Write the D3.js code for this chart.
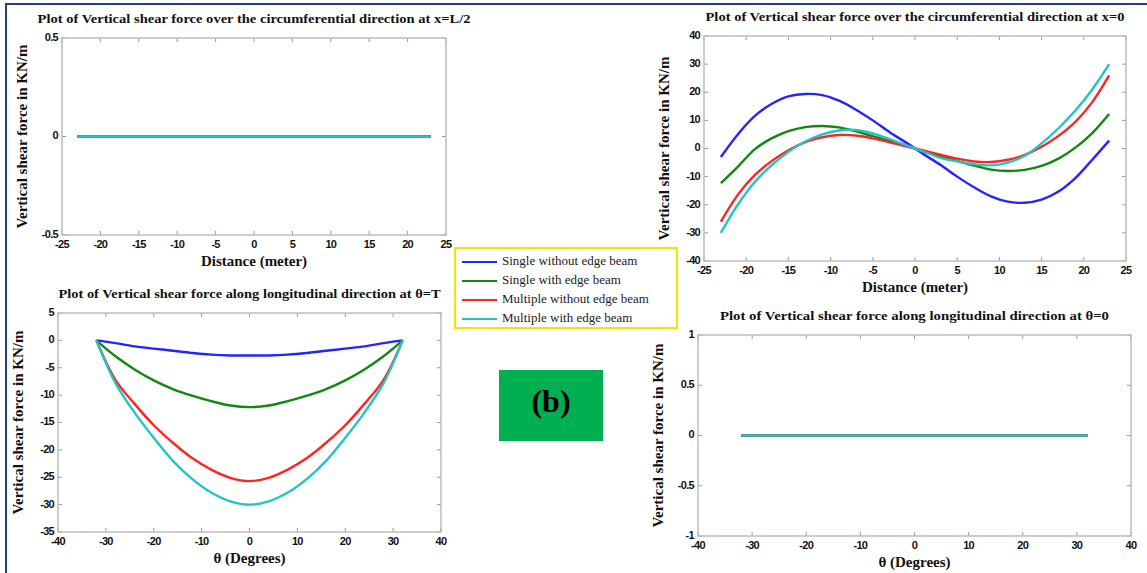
<!DOCTYPE html>
<html>
<head>
<meta charset="utf-8">
<title>Vertical shear force plots</title>
<script src="https://d3js.org/d3.v7.min.js"></script>
<style>
    body { margin: 0; background: #fff; }
    svg { display: block; }
    .tick-label { font-family: "Liberation Sans", Arial, sans-serif; font-weight: bold; font-size: 11px; letter-spacing: -0.7px; fill: #111; }
    .title { font-family: "Liberation Serif", "Times New Roman", serif; font-weight: bold; font-size: 13px; fill: #111; }
    .axis-label { font-family: "Liberation Serif", "Times New Roman", serif; font-weight: bold; font-size: 15px; fill: #111; }
    .legend-text { font-family: "Liberation Serif", "Times New Roman", serif; font-size: 13px; fill: #222; }
</style>
</head>
<body>
<div id="chart"></div>
<script>
// series names + colours (shared by all four plots)
var seriesNames = ["Single without edge beam", "Single with edge beam", "Multiple without edge beam", "Multiple with edge beam"];
var seriesColors = ["#2424ff", "#128812", "#ff2424", "#22c4c4"];

// circumferential direction (distance in meter)
var circX = [-23, -21, -19, -17, -15, -13, -11, -9, -7, -5, -3, -1, 1, 3, 5, 7, 9, 11, 13, 15, 17, 19, 21, 23];
// x = L/2 : all curves sit on zero
var midBlue  = [0, 0, 0, 0, 0, 0, 0, 0, 0, 0, 0, 0, 0, 0, 0, 0, 0, 0, 0, 0, 0, 0, 0, 0];
var midGreen = [0, 0, 0, 0, 0, 0, 0, 0, 0, 0, 0, 0, 0, 0, 0, 0, 0, 0, 0, 0, 0, 0, 0, 0];
var midRed   = [0, 0, 0, 0, 0, 0, 0, 0, 0, 0, 0, 0, 0, 0, 0, 0, 0, 0, 0, 0, 0, 0, 0, 0];
var midCyan  = [0, 0, 0, 0, 0, 0, 0, 0, 0, 0, 0, 0, 0, 0, 0, 0, 0, 0, 0, 0, 0, 0, 0, 0];
// x = 0
var endBlue  = [-3, 5, 11.5, 15.8, 18.5, 19.4, 19, 17, 13.8, 10, 5.8, 2, -2, -5.8, -10, -13.8, -17, -18.9, -19.3, -18.2, -15.3, -10.5, -4, 2.8];
var endGreen = [-12.3, -6.5, -0.3, 3.6, 6.2, 7.6, 8, 7.5, 6.1, 4.4, 2.7, 0.9, -0.9, -2.7, -4.4, -6.1, -7.5, -8, -7.6, -6.2, -3.6, 0.3, 5.5, 12.3];
var endRed   = [-26, -16.5, -9.5, -4.5, -0.6, 2.3, 4, 4.8, 4.6, 3.6, 2.2, 0.7, -0.7, -2.2, -3.6, -4.6, -4.8, -4, -2.3, 0.6, 4.5, 9.5, 16.5, 26];
var endCyan  = [-30, -20, -12, -6, -1.2, 2.5, 5, 6.4, 6.6, 5.4, 3.3, 1.1, -1.1, -3.3, -4.6, -5.6, -6, -5, -2.6, 1.8, 7.2, 13.5, 21, 30];

// longitudinal direction (theta in degrees)
var thetaX = [-32, -28, -24, -20, -16, -12, -8, -4, 0, 4, 8, 12, 16, 20, 24, 28, 32];
// theta = T
var longBlue  = [0, -0.5, -1.1, -1.5, -1.9, -2.3, -2.6, -2.75, -2.75, -2.75, -2.6, -2.3, -1.9, -1.5, -1.1, -0.5, 0];
var longGreen = [0, -2.9, -5.3, -7.3, -8.9, -10.1, -11.1, -11.9, -12.2, -11.9, -11.1, -10.1, -8.9, -7.3, -5.3, -2.9, 0];
var longRed   = [0, -7.2, -11.6, -15.5, -18.7, -21.5, -23.6, -25.1, -25.7, -25.1, -23.6, -21.5, -18.7, -15.5, -11.6, -7.2, 0];
var longCyan  = [0, -7.8, -13.2, -17.8, -22, -25.3, -27.8, -29.4, -30, -29.4, -27.8, -25.3, -22, -17.8, -13.2, -7.8, 0];
// theta = 0 : all zero
var zeroBlue  = [0, 0, 0, 0, 0, 0, 0, 0, 0, 0, 0, 0, 0, 0, 0, 0, 0];
var zeroGreen = [0, 0, 0, 0, 0, 0, 0, 0, 0, 0, 0, 0, 0, 0, 0, 0, 0];
var zeroRed   = [0, 0, 0, 0, 0, 0, 0, 0, 0, 0, 0, 0, 0, 0, 0, 0, 0];
var zeroCyan  = [0, 0, 0, 0, 0, 0, 0, 0, 0, 0, 0, 0, 0, 0, 0, 0, 0];

// tick labels
var distTicks = [-25, -20, -15, -10, -5, 0, 5, 10, 15, 20, 25];
var thetaTicks = [-40, -30, -20, -10, 0, 10, 20, 30, 40];
var midYTicks = [-0.5, 0, 0.5];
var endYTicks = [-40, -30, -20, -10, 0, 10, 20, 30, 40];
var longYTicks = [-35, -30, -25, -20, -15, -10, -5, 0, 5];
var zeroYTicks = [-1, -0.5, 0, 0.5, 1];

var W = 1147, H = 573;
var svg = d3.select("#chart").append("svg")
    .attr("width", W)
    .attr("height", H);

// dark frame round the figure
svg.append("path")
    .attr("d", "M6,573 V4 H1147")
    .attr("fill", "none")
    .attr("stroke", "#23407a")
    .attr("stroke-width", 2);

function drawPanel(p) {
    var x = d3.scaleLinear().domain(p.xDomain).range([p.left, p.right]);
    var y = d3.scaleLinear().domain(p.yDomain).range([p.bottom, p.top]);
    var g = svg.append("g");

    // ticks on all four sides, pointing in
    p.xTicks.forEach(function(t) {
        g.append("line").attr("x1", x(t)).attr("x2", x(t)).attr("y1", p.bottom).attr("y2", p.bottom - 4).attr("stroke", "#999");
        g.append("line").attr("x1", x(t)).attr("x2", x(t)).attr("y1", p.top).attr("y2", p.top + 4).attr("stroke", "#999");
        g.append("text").attr("class", "tick-label")
            .attr("x", x(t)).attr("y", p.bottom + 10)
            .attr("text-anchor", "middle").attr("dominant-baseline", "middle")
            .text(t);
    });
    p.yTicks.forEach(function(t) {
        g.append("line").attr("x1", p.left).attr("x2", p.left + 4).attr("y1", y(t)).attr("y2", y(t)).attr("stroke", "#999");
        g.append("line").attr("x1", p.right).attr("x2", p.right - 4).attr("y1", y(t)).attr("y2", y(t)).attr("stroke", "#999");
        g.append("text").attr("class", "tick-label")
            .attr("x", p.left - 4).attr("y", y(t))
            .attr("text-anchor", "end").attr("dominant-baseline", "middle")
            .text(t);
    });

    g.append("rect")
        .attr("x", p.left).attr("y", p.top)
        .attr("width", p.right - p.left).attr("height", p.bottom - p.top)
        .attr("fill", "none").attr("stroke", "#bdbdbd").attr("stroke-width", 1.5);

    var line = d3.line()
        .x(function(d) { return x(d[0]); })
        .y(function(d) { return y(d[1]); })
        .curve(d3.curveCatmullRom);

    p.series.forEach(function(vals, i) {
        g.append("path")
            .datum(p.xs.map(function(v, j) { return [v, vals[j]]; }))
            .attr("d", line)
            .attr("fill", "none")
            .attr("stroke", seriesColors[i])
            .attr("stroke-width", 2.4);
    });

    var cx = (p.left + p.right) / 2;
    g.append("text").attr("class", "title")
        .attr("x", cx).attr("y", p.top - 18)
        .attr("text-anchor", "middle").attr("dominant-baseline", "middle")
        .attr("textLength", p.titleWidth).attr("lengthAdjust", "spacingAndGlyphs")
        .text(p.title);
    g.append("text").attr("class", "axis-label")
        .attr("x", cx).attr("y", p.bottom + 28)
        .attr("text-anchor", "middle").attr("dominant-baseline", "middle")
        .text(p.xLabel);
    g.append("text").attr("class", "axis-label")
        .attr("transform", "translate(" + (p.left - 38) + "," + ((p.top + p.bottom) / 2) + ") rotate(-90)")
        .attr("text-anchor", "middle").attr("dominant-baseline", "middle")
        .text("Vertical shear force in KN/m");
}

drawPanel({
    left: 62, right: 446, top: 38, bottom: 235,
    xDomain: [-25, 25], yDomain: [-0.5, 0.5],
    xTicks: distTicks, yTicks: midYTicks,
    xs: circX, series: [midBlue, midGreen, midRed, midCyan],
    title: "Plot of Vertical shear force over the circumferential direction at x=L/2", titleWidth: 433,
    xLabel: "Distance (meter)"
});

drawPanel({
    left: 704, right: 1126, top: 36, bottom: 261,
    xDomain: [-25, 25], yDomain: [-40, 40],
    xTicks: distTicks, yTicks: endYTicks,
    xs: circX, series: [endBlue, endGreen, endRed, endCyan],
    title: "Plot of Vertical shear force over the circumferential direction at x=0", titleWidth: 419,
    xLabel: "Distance (meter)"
});

drawPanel({
    left: 58, right: 441, top: 313, bottom: 532,
    xDomain: [-40, 40], yDomain: [-35, 5],
    xTicks: thetaTicks, yTicks: longYTicks,
    xs: thetaX, series: [longBlue, longGreen, longRed, longCyan],
    title: "Plot of Vertical shear force along longitudinal direction at θ=T", titleWidth: 382,
    xLabel: "θ (Degrees)"
});

drawPanel({
    left: 698, right: 1131, top: 335, bottom: 536,
    xDomain: [-40, 40], yDomain: [-1, 1],
    xTicks: thetaTicks, yTicks: zeroYTicks,
    xs: thetaX, series: [zeroBlue, zeroGreen, zeroRed, zeroCyan],
    title: "Plot of Vertical shear force along longitudinal direction at θ=0", titleWidth: 389,
    xLabel: "θ (Degrees)"
});

// legend
var legend = svg.append("g");
legend.append("rect")
    .attr("x", 455).attr("y", 248).attr("width", 222).attr("height", 80)
    .attr("fill", "#fff").attr("stroke", "#f2e600").attr("stroke-width", 2);
seriesNames.forEach(function(name, i) {
    var ly = 262 + i * 19;
    legend.append("line")
        .attr("x1", 462).attr("x2", 497).attr("y1", ly).attr("y2", ly)
        .attr("stroke", seriesColors[i]).attr("stroke-width", 2);
    legend.append("text").attr("class", "legend-text")
        .attr("x", 502).attr("y", ly)
        .attr("dominant-baseline", "middle")
        .text(name);
});

// (b) tag
svg.append("rect")
    .attr("x", 499).attr("y", 370).attr("width", 104).attr("height", 71)
    .attr("fill", "#00b050");
svg.append("text")
    .attr("x", 551).attr("y", 405)
    .attr("text-anchor", "middle").attr("dominant-baseline", "middle")
    .style("font-family", "'Liberation Serif', 'Times New Roman', serif")
    .style("font-weight", "bold").style("font-size", "32px")
    .text("(b)");
</script>
</body>
</html>
